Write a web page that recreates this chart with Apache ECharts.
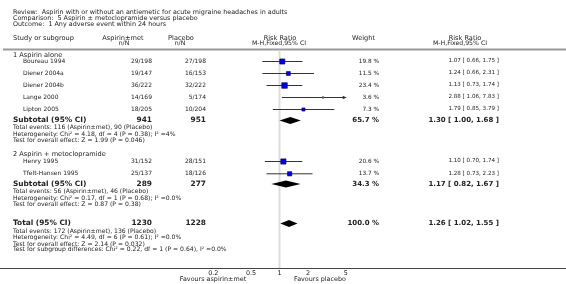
<!DOCTYPE html>
<html>
<head>
<meta charset="utf-8">
<script src="https://cdn.jsdelivr.net/npm/echarts@6/dist/echarts.min.js"></script>
<style>
  html, body { margin: 0; padding: 0; background: #fff; }
  #chart { width: 566px; height: 284px; }
</style>
</head>
<body>
<div id="chart"></div>
<script>
// ---- data ----
const titleLines = [
  "Review:  Aspirin with or without an antiemetic for acute migraine headaches in adults",
  "Comparison:  5 Aspirin \u00b1 metoclopramide versus placebo",
  "Outcome:  1 Any adverse event within 24 hours"
];
const groupTitles = ["1 Aspirin alone", "2 Aspirin + metoclopramide"];
const studyNames = ["Boureau 1994", "Diener 2004a", "Diener 2004b", "Lange 2000", "Lipton 2005", "Henry 1995", "Tfelt-Hansen 1995"];
const treatEvents = ["29/198", "19/147", "36/222", "14/169", "18/205", "31/152", "25/137"];
const ctrlEvents = ["27/198", "16/153", "32/222", "5/174", "10/204", "28/151", "18/126"];
const weights = [19.8, 11.5, 23.4, 3.6, 7.3, 20.6, 13.7];
const rr = [1.07, 1.24, 1.13, 2.88, 1.79, 1.10, 1.28];
const rrLow = [0.66, 0.66, 0.73, 1.06, 0.85, 0.70, 0.73];
const rrHigh = [1.75, 2.31, 1.74, 7.83, 3.79, 1.74, 2.23];

const summaryNames = ["Subtotal (95% CI)", "Subtotal (95% CI)", "Total (95% CI)"];
const summaryTreatN = [941, 289, 1230];
const summaryCtrlN = [951, 277, 1228];
const summaryWeights = [65.7, 34.3, 100.0];
const summaryRR = [1.30, 1.17, 1.26];
const summaryLow = [1.00, 0.82, 1.02];
const summaryHigh = [1.68, 1.67, 1.55];

const footnotes = [
  ["Total events: 116 (Aspirin\u00b1met), 90 (Placebo)",
   "Heterogeneity: Chi\u00b2 = 4.18, df = 4 (P = 0.38); I\u00b2 =4%",
   "Test for overall effect: Z = 1.99 (P = 0.046)"],
  ["Total events: 56 (Aspirin\u00b1met), 46 (Placebo)",
   "Heterogeneity: Chi\u00b2 = 0.17, df = 1 (P = 0.68); I\u00b2 =0.0%",
   "Test for overall effect: Z = 0.87 (P = 0.38)"],
  ["Total events: 172 (Aspirin\u00b1met), 136 (Placebo)",
   "Heterogeneity: Chi\u00b2 = 4.49, df = 6 (P = 0.61); I\u00b2 =0.0%",
   "Test for overall effect: Z = 2.14 (P = 0.032)",
   "Test for subgroup differences: Chi\u00b2 = 0.22, df = 1 (P = 0.64), I\u00b2 =0.0%"]
];

const tickValues = [0.2, 0.5, 1, 2, 5];
const tickLabels = ["0.2", "0.5", "1", "2", "5"];
const favoursLeft = "Favours aspirin\u00b1met";
const favoursRight = "Favours placebo";

// ---- layout (row positions, px) ----
const groupTitleY = [55, 154];
const studyY = [61, 73, 85, 97, 109, 161, 173.3];
const summaryY = [120.5, 184, 223.5];
const footY = [[127.3, 134, 140.7], [191.3, 198, 204.7], [231, 237.7, 244, 249.3]];
const axisY = 268;

const FONT = "DejaVu Sans";
const TXT = "#222";
const lg = v => Math.log10(v);
const xMin = lg(tickValues[0]);
const xMax = lg(tickValues[tickValues.length - 1]);

function txt(x, y, text, opts) {
  opts = opts || {};
  return {
    type: "text", x: x, y: y, silent: true,
    style: {
      text: text, fill: opts.fill || TXT,
      font: (opts.bold ? "bold " : "") + (opts.size || 6.4) + "px " + FONT,
      align: opts.align || "left", verticalAlign: "middle"
    }
  };
}

const graphics = [];
titleLines.forEach((t, i) => graphics.push(txt(13, [12, 18.3, 24.3][i], t)));
// headers
graphics.push(txt(13, 38, "Study or subgroup", { size: 6.6 }));
graphics.push(txt(123, 38, "Aspirin\u00b1met", { size: 6.6, align: "center" }));
graphics.push(txt(124, 43.5, "n/N", { size: 6.2, align: "center" }));
graphics.push(txt(181, 38, "Placebo", { size: 6.6, align: "center" }));
graphics.push(txt(180, 43.5, "n/N", { size: 6.2, align: "center" }));
graphics.push(txt(280, 38, "Risk Ratio", { size: 6.6, align: "center" }));
graphics.push(txt(279, 43.5, "M-H,Fixed,95% CI", { size: 6.2, align: "center" }));
graphics.push(txt(352, 38, "Weight", { size: 6.6 }));
graphics.push(txt(465, 38, "Risk Ratio", { size: 6.6, align: "center" }));
graphics.push(txt(460, 43.5, "M-H,Fixed,95% CI", { size: 6.2, align: "center" }));
graphics.push({ type: "line", silent: true, shape: { x1: 3, y1: 49.5, x2: 566, y2: 49.5 },
  style: { stroke: "#9a9a9a", lineWidth: 2 } });

groupTitles.forEach((t, i) => graphics.push(txt(13, groupTitleY[i], t, { size: 6.6 })));
studyNames.forEach((n, i) => {
  const y = studyY[i];
  graphics.push(txt(23, y, n, { size: 6 }));
  graphics.push(txt(152, y, treatEvents[i], { size: 6, align: "right" }));
  graphics.push(txt(206, y, ctrlEvents[i], { size: 6, align: "right" }));
  graphics.push(txt(379, y, weights[i].toFixed(1) + " %", { size: 5.8, align: "right" }));
  graphics.push(txt(499, y, rr[i].toFixed(2) + " [ " + rrLow[i].toFixed(2) + ", " + rrHigh[i].toFixed(2) + " ]",
    { size: 5.6, align: "right" }));
});
summaryNames.forEach((n, i) => {
  const y = summaryY[i];
  graphics.push(txt(13, y, n, { size: 7.4, bold: true }));
  graphics.push(txt(152, y, String(summaryTreatN[i]), { size: 7.4, bold: true, align: "right" }));
  graphics.push(txt(206, y, String(summaryCtrlN[i]), { size: 7.4, bold: true, align: "right" }));
  graphics.push(txt(379, y, summaryWeights[i].toFixed(1) + " %", { size: 7, bold: true, align: "right" }));
  graphics.push(txt(499, y, summaryRR[i].toFixed(2) + " [ " + summaryLow[i].toFixed(2) + ", " + summaryHigh[i].toFixed(2) + " ]",
    { size: 7, bold: true, align: "right" }));
  footnotes[i].forEach((f, j) => graphics.push(txt(13, footY[i][j], f, { size: 6.1 })));
});
graphics.push({ type: "line", silent: true, shape: { x1: 0, y1: axisY + 0.5, x2: 566, y2: axisY + 0.5 },
  style: { stroke: "#444", lineWidth: 1 } });
graphics.push(txt(213, 279.3, favoursLeft, { size: 6.4, align: "center" }));
graphics.push(txt(320, 279.3, favoursRight, { size: 6.4, align: "center" }));

// ---- series data ----
const studyData = rr.map((v, i) => [lg(v), lg(rrLow[i]), lg(rrHigh[i]), studyY[i], 1.15 * Math.sqrt(weights[i])]);
const summaryData = summaryRR.map((v, i) => [lg(v), lg(summaryLow[i]), lg(summaryHigh[i]), summaryY[i]]);

function renderStudy(params, api) {
  const y = api.value(3);
  const hiVal = api.value(2);
  const lo = api.coord([Math.max(api.value(1), xMin), y]);
  const hi = api.coord([Math.min(hiVal, xMax), y]);
  const c = api.coord([api.value(0), y]);
  const s = api.value(4);
  const small = s < 2.5;
  const children = [
    { type: "line", shape: { x1: lo[0], y1: lo[1] + 0.5, x2: hi[0], y2: hi[1] + 0.5 },
      style: { stroke: "#333", lineWidth: 1 } },
    { type: "rect", shape: { x: c[0] - s / 2, y: c[1] + 0.5 - s / 2, width: s, height: s },
      style: small ? { fill: "#555" } : { fill: "#0000ee", stroke: "#000044", lineWidth: 0.6 } }
  ];
  if (hiVal > xMax) {
    children.push({ type: "polygon",
      shape: { points: [[hi[0] + 1, hi[1] + 0.5], [hi[0] - 3, hi[1] - 1.3], [hi[0] - 3, hi[1] + 2.3]] },
      style: { fill: "#333" } });
  }
  return { type: "group", children: children };
}

function renderDiamond(params, api) {
  const y = api.value(3);
  const lo = api.coord([api.value(1), y]);
  const hi = api.coord([api.value(2), y]);
  const c = api.coord([api.value(0), y]);
  return { type: "polygon",
    shape: { points: [[lo[0], lo[1]], [c[0], c[1] - 3.5], [hi[0], hi[1]], [c[0], c[1] + 3.5]] },
    style: { fill: "#000" } };
}

const chart = echarts.init(document.getElementById("chart"), null, { renderer: "canvas" });
chart.setOption({
  animation: false,
  backgroundColor: "#fff",
  grid: { left: 213.3, right: 566 - 345.7, top: 0, bottom: 284 - axisY, containLabel: false },
  xAxis: {
    type: "value", min: xMin, max: xMax,
    axisLine: { show: false },
    axisTick: { show: true, inside: true, length: 3, customValues: tickValues.map(lg),
      lineStyle: { color: "#444", width: 1 } },
    axisLabel: { show: true, customValues: tickValues.map(lg), margin: 2,
      fontFamily: FONT, fontSize: 6.4, color: TXT,
      formatter: v => {
        const i = tickValues.findIndex(t => Math.abs(lg(t) - v) < 1e-6);
        return i >= 0 ? tickLabels[i] : "";
      } },
    splitLine: { show: false }
  },
  yAxis: { type: "value", min: 0, max: axisY, inverse: true, show: false },
  series: [
    { type: "line", silent: true, symbol: "none", z: 1,
      data: [[0, 50], [0, axisY]], lineStyle: { color: "#dcdcdc", width: 2 } },
    { type: "custom", renderItem: renderStudy, data: studyData, clip: false, z: 3 },
    { type: "custom", renderItem: renderDiamond, data: summaryData, clip: false, z: 3 }
  ],
  graphic: graphics
});
</script>
</body>
</html>
